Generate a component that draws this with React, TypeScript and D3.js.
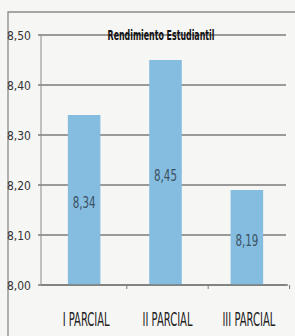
import React, { useEffect, useRef } from 'react';
import * as d3 from 'd3';

const categories = ['I PARCIAL', 'II PARCIAL', 'III PARCIAL'];
const values = [8.34, 8.45, 8.19];
const yTicks = [8.0, 8.1, 8.2, 8.3, 8.4, 8.5];
const title = 'Rendimiento Estudiantil';

const W = 295, H = 336;
const font = '"DejaVu Sans", sans-serif';
const fmt = (d: number) => d3.format('.2f')(d).replace('.', ',');

// the source uses a very narrow font: draw with DejaVu and squeeze horizontally to a target width
function narrowText(g: any, str: string, cx: number, y: number, width: number,
    size: number, anchor: 'start' | 'middle', opts: any = {}) {
    const t = g.append('text')
        .attr('font-family', font).attr('font-size', size)
        .attr('fill', opts.fill || '#222')
        .attr('font-weight', opts.weight || 'normal')
        .attr('text-anchor', anchor)
        .text(str);
    const natural = (t.node() as SVGTextElement).getComputedTextLength() || width;
    const sx = width / natural;
    t.attr('transform', `translate(${cx},${y}) scale(${sx},1)`);
    return t;
}

export default function App() {
    const ref = useRef<SVGSVGElement>(null);

    useEffect(() => {
        const svg = d3.select(ref.current);
        svg.selectAll('*').remove();

        const margin = { top: 35, right: 5, bottom: 51, left: 41 };

        // background + outer chart border
        svg.append('rect').attr('width', W).attr('height', H).attr('fill', '#f6f6f4');
        svg.append('path')
            .attr('d', `M8,${H} L8,12 L${W},12`)
            .attr('fill', 'none').attr('stroke', '#8a8a8a').attr('stroke-width', 1.3);

        const x = d3.scaleBand().domain(categories)
            .range([margin.left, W - margin.right]).paddingInner(0.6).paddingOuter(0.33);
        const y = d3.scaleLinear().domain([8.0, 8.5]).range([H - margin.bottom, margin.top]);

        // gridlines
        svg.append('g').selectAll('line').data(yTicks).enter().append('line')
            .attr('x1', margin.left - 3).attr('x2', 286)
            .attr('y1', d => y(d)).attr('y2', d => y(d))
            .attr('stroke', '#7b7b7b').attr('stroke-width', 1.4);

        // y axis line
        svg.append('line')
            .attr('x1', margin.left).attr('x2', margin.left)
            .attr('y1', y(8.5)).attr('y2', y(8.0))
            .attr('stroke', '#8a8a8a').attr('stroke-width', 1);

        // y tick labels
        const yl = svg.append('g');
        yTicks.forEach(d => narrowText(yl, fmt(d), 7, y(d) + 5, 24, 13, 'start', { fill: '#333' }));

        // bars
        svg.append('g').selectAll('rect').data(values).enter().append('rect')
            .attr('x', (d, i) => x(categories[i])!)
            .attr('width', x.bandwidth())
            .attr('y', d => y(d))
            .attr('height', d => y(8.0) - y(d))
            .attr('fill', '#84bde0');

        // value labels
        const vl = svg.append('g');
        values.forEach((d, i) => narrowText(vl, fmt(d),
            x(categories[i])! + x.bandwidth() / 2, (y(d) + y(8.0)) / 2 + 8,
            23, 16, 'middle', { fill: '#3c5060' }));

        // x baseline + ticks
        const base = y(8.0);
        svg.append('line')
            .attr('x1', margin.left).attr('x2', 288).attr('y1', base).attr('y2', base)
            .attr('stroke', '#7b7b7b').attr('stroke-width', 1.4);
        const gap = (x.step() - x.bandwidth()) / 2;
        svg.append('g').selectAll('line').data(categories).enter().append('line')
            .attr('x1', d => x(d)! + x.bandwidth() + gap + 2)
            .attr('x2', d => x(d)! + x.bandwidth() + gap + 2)
            .attr('y1', base).attr('y2', base + 4)
            .attr('stroke', '#7b7b7b');

        // category labels
        const cl = svg.append('g');
        const catWidths = [47, 50, 53];
        categories.forEach((c, i) => narrowText(cl, c,
            x(c)! + x.bandwidth() / 2 + 2, 326, catWidths[i], 19, 'middle'));

        // title
        narrowText(svg, title, 161, 40, 107, 14, 'middle', { weight: 'bold', fill: '#111' });
    }, []);

    return (
        <svg ref={ref} width={W} height={H}
            style={{ position: 'absolute', left: 0, top: 0 }} />
    );
}
